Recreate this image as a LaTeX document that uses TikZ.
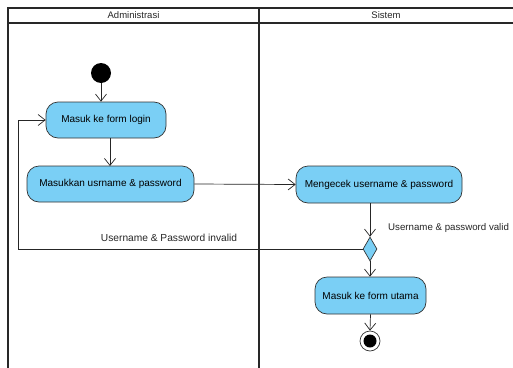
\documentclass[tikz,border=0pt]{standalone}
\usepackage{fontspec}
\setmainfont{Liberation Sans}
\usetikzlibrary{arrows.meta,shapes.geometric}
\definecolor{actfill}{RGB}{122,207,245}
\definecolor{lanegray}{RGB}{40,40,40}
\begin{document}
\begin{tikzpicture}[x=1pt,y=-1pt,
  act/.style={draw=black!80,fill=actfill,rounded corners=12pt,line width=0.7pt,font=\fontsize{10}{12}\selectfont,align=center,inner sep=0pt},
  flow/.style={draw=black!85,line width=0.7pt,-{Straight Barb[length=7pt,width=11pt,line width=0.7pt]}},
  lane/.style={draw=lanegray,line width=1.6pt},
  lbl/.style={font=\fontsize{10.2}{11}\selectfont,text=black!85,inner sep=0pt}]
\useasboundingbox (0,0) rectangle (513,367);
\clip (0,0) rectangle (513,367);
\fill[white] (0,0) rectangle (513,367);
% swimlanes
\draw[lane] (8,8) rectangle (530,23);
\draw[lane] (8,8) -- (8,370);
\draw[lane] (259,8) -- (259,370);
\node[lbl,font=\fontsize{9.5}{11}\selectfont] (hA) at (133.5,15.5) {Administrasi};
\node[lbl,font=\fontsize{9.5}{11}\selectfont] (hS) at (386,15.5) {Sistem};
% nodes
\node[circle,fill=black,minimum size=20pt,inner sep=0pt] (start) at (101,73) {};
\node[act,minimum width=120pt,minimum height=36pt] (login) at (106,120) {Masuk ke form login};
\node[act,minimum width=167pt,minimum height=36pt] (input) at (110.5,184) {Masukkan usrname \& password};
\node[act,minimum width=166pt,minimum height=37pt] (cek) at (379,184.5) {Mengecek username \& password};
\node[diamond,draw=black!80,fill=actfill,line width=0.7pt,minimum width=14pt,minimum height=24pt,inner sep=0pt,aspect=0.58] (dec) at (370,249) {};
\node[act,minimum width=111pt,minimum height=37pt] (utama) at (370.5,295.5) {Masuk ke form utama};
\node[circle,draw=black!80,fill=white,line width=0.7pt,minimum size=20pt,inner sep=0pt] (end) at (370,341) {};
\node[circle,fill=black,minimum size=13pt,inner sep=0pt] (endin) at (370,341) {};
% connectors
\draw[flow] (start.south) -- (start.south |- login.north);
\draw[flow] (110,138) -- (110,166);
\draw[flow] (input.east) -- (cek.west);
\draw[flow] (dec.north |- cek.south) -- (dec.north);
\draw[flow] (dec.west) -- (18,249) -- (18,120) -- (login.west);
\draw[flow] (dec.south) -- (dec.south |- utama.north);
\draw[flow] (utama.south) -- (end.north);
% labels
\node[lbl,anchor=west,font=\fontsize{9.7}{11}\selectfont] (lvalid) at (388,228) {Username \& password valid};
\node[lbl] (linvalid) at (169,238) {Username \& Password invalid};
\end{tikzpicture}
\end{document}
